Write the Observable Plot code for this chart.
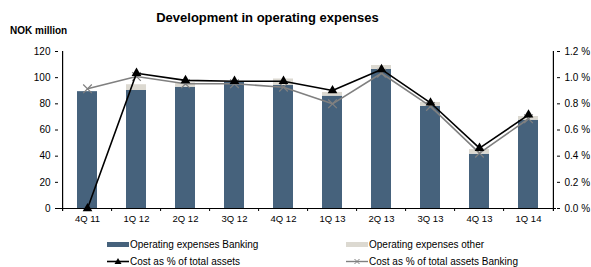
<!DOCTYPE html>
<html><head><meta charset="utf-8">
<script src="https://cdn.jsdelivr.net/npm/d3@7"></script>
<script src="https://cdn.jsdelivr.net/npm/@observablehq/plot@0.6"></script>
<style>
body{margin:0;background:#fff;font-family:"Liberation Sans",Arial,sans-serif;}
#wrap{position:relative;width:591px;height:267px;overflow:hidden;}
#chart{position:absolute;left:0;top:0;}
.title{position:absolute;left:0;width:535px;top:10px;text-align:center;font-weight:bold;font-size:13px;color:#000;}
.unit{position:absolute;left:10px;top:25px;font-weight:bold;font-size:10px;color:#000;}
.leg{position:absolute;font-size:10px;color:#000;display:flex;align-items:center;white-space:nowrap;}
.leg svg{margin-right:1px;}
</style></head><body>
<div id="wrap">
<div id="chart"></div>
<div class="title">Development in operating expenses</div>
<div class="unit">NOK million</div>
<div id="legend"></div>
</div>
<script>
const categories = ["4Q 11","1Q 12","2Q 12","3Q 12","4Q 12","1Q 13","2Q 13","3Q 13","4Q 13","1Q 14"];
const opexBanking = [89.3, 90.2, 92.7, 96.6, 94.0, 85.9, 106.3, 78.0, 41.5, 67.5];
const opexOther   = [0.0, 4.4, 3.3, 0.5, 5.0, 2.8, 3.0, 3.0, 3.6, 2.8];
const costPctTotal   = [0.00, 1.034, 0.979, 0.973, 0.973, 0.902, 1.063, 0.808, 0.461, 0.716];
const costPctBanking = [0.915, 1.009, 0.953, 0.953, 0.927, 0.800, 1.034, 0.780, 0.423, 0.686];
const leftTicks = [0, 20, 40, 60, 80, 100, 120];

const seriesNames = ["Operating expenses Banking","Operating expenses other","Cost as % of total assets","Cost as % of total assets Banking"];
const colors = {bank:"#46627c", other:"#dcd9d1", total:"#000000", bankPct:"#808080"};

const bars = [];
categories.forEach((c,i)=>{
  bars.push({cat:c, series:seriesNames[0], value:opexBanking[i]});
  bars.push({cat:c, series:seriesNames[1], value:opexOther[i]});
});
const lineTotal = categories.map((c,i)=>({cat:c, pct:costPctTotal[i]}));
const lineBank = categories.map((c,i)=>({cat:c, pct:costPctBanking[i]}));

const W = 591, H = 267, ml = 58, mr = 35, mt = 51, mb = 59;
const step = (W - ml - mr) / categories.length;

const plot = Plot.plot({
  width: W, height: H,
  marginLeft: ml, marginRight: mr, marginTop: mt, marginBottom: mb,
  style: {fontFamily: '"Liberation Sans", Arial, sans-serif', fontSize: "10px", color:"#000", background:"#fff"},
  x: {type:"band", domain: categories, paddingInner: 0.6, paddingOuter: 0.3, align: 0.5},
  y: {domain:[0,120]},
  color: {domain: seriesNames.slice(0,2), range:[colors.bank, colors.other]},
  marks: [
    Plot.barY(bars, Plot.stackY({x:"cat", y:"value", fill:"series", order: seriesNames.slice(0,2)})),
    Plot.ruleY([0], {stroke:"#000", strokeWidth:1.2}),
    Plot.ruleX([categories[0]], {x:d=>d, y1:-2.3, y2:120, dx:-step/2, stroke:"#000", strokeWidth:1.2}),
    Plot.ruleX([categories[categories.length-1]], {x:d=>d, y1:-2.3, y2:120, dx:step/2, stroke:"#000", strokeWidth:1.2}),
    Plot.ruleX(categories.slice(1), {x:d=>d, y1:-2.3, y2:0, dx:-step/2, stroke:"#000"}),
    Plot.axisY({anchor:"left", ticks:leftTicks, tickSize:3, tickPadding:5, label:null, fontSize:10}),
    Plot.axisY({anchor:"right", ticks:leftTicks, tickSize:3, tickPadding:5, label:null, fontSize:10,
      tickFormat: v => (v/100).toFixed(1) + " %"}),
    Plot.axisX({tickSize:0, tickPadding:7, label:null, fontSize:9.5}),
    Plot.lineY(lineBank, {x:"cat", y:d=>d.pct*100, stroke:colors.bankPct, strokeWidth:1.6}),
    Plot.dot(lineBank, {x:"cat", y:d=>d.pct*100, symbol:"times", stroke:colors.bankPct, r:4, strokeWidth:1.2}),
    Plot.lineY(lineTotal, {x:"cat", y:d=>d.pct*100, stroke:colors.total, strokeWidth:1.6}),
    Plot.dot(lineTotal, {x:"cat", y:d=>d.pct*100, symbol:"triangle", fill:colors.total, r:3.6})
  ]
});
document.getElementById("chart").appendChild(plot);

// Legend
const legend = document.getElementById("legend");
const legItems = [
  {name:seriesNames[0], kind:"rect", color:colors.bank, x:107, y:239},
  {name:seriesNames[1], kind:"rect", color:colors.other, x:346, y:239},
  {name:seriesNames[2], kind:"tri", color:colors.total, x:107, y:256},
  {name:seriesNames[3], kind:"times", color:colors.bankPct, x:346, y:256}
];
legItems.forEach(it=>{
  const div = document.createElement("div");
  div.className = "leg";
  div.style.left = it.x + "px";
  div.style.top = it.y + "px";
  div.style.height = "11px";
  let sw = "";
  if (it.kind === "rect") sw = `<svg width="22" height="11"><rect x="0" y="3" width="22" height="5" fill="${it.color}"/></svg>`;
  else if (it.kind === "tri") sw = `<svg width="22" height="11"><line x1="0" x2="22" y1="5.5" y2="5.5" stroke="${it.color}" stroke-width="1.6"/><path d="M11,2 L14.5,8 L7.5,8 Z" fill="${it.color}"/></svg>`;
  else sw = `<svg width="22" height="11"><line x1="0" x2="22" y1="5.5" y2="5.5" stroke="${it.color}" stroke-width="1.4"/><path d="M8.5,3 L13.5,8 M13.5,3 L8.5,8" stroke="${it.color}" stroke-width="1"/></svg>`;
  div.innerHTML = sw + `<span>${it.name}</span>`;
  legend.appendChild(div);
});
</script>
</body></html>
